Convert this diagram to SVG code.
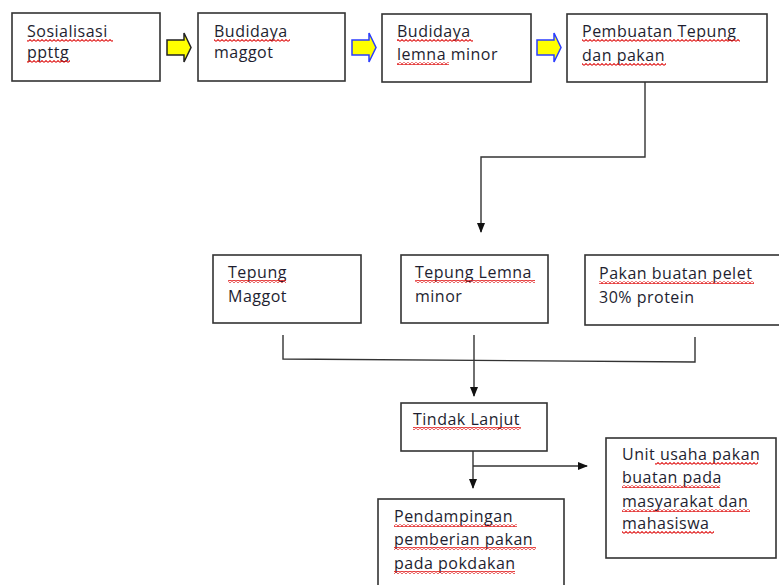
<svg xmlns="http://www.w3.org/2000/svg" width="779" height="585" viewBox="0 0 779 585">
<defs>
<style>
.box{fill:#fff;stroke:#333;stroke-width:1.6}
.t{font-family:"Open Sans","Liberation Sans",sans-serif;font-size:16px;letter-spacing:0.5px;fill:#1e1e30}
.c{fill:none;stroke:#333;stroke-width:1.4}
.ba{fill:#ffff00;stroke-width:1.5}
.wv{fill:url(#wave)}
</style>
<pattern id="wave" patternUnits="userSpaceOnUse" width="4" height="3">
<path d="M0,2.4 L2,0.6 L4,2.4" fill="none" stroke="#e01818" stroke-width="1.1"/>
</pattern>
<marker id="ah" markerWidth="10" markerHeight="10" refX="9" refY="5" orient="auto" markerUnits="userSpaceOnUse">
<path d="M0,1 L10,5 L0,9 Z" fill="#111"/>
</marker>
</defs>
<rect width="779" height="585" fill="#fff"/>

<g id="connectors">
<path class="ba" stroke="#222" d="M167,40 L184,40 L184,33 L191,47.5 L184,62 L184,55 L167,55 Z"/>
<path class="ba" stroke="#2a3cff" d="M352,40 L369,40 L369,33 L376,47.5 L369,62 L369,55 L352,55 Z"/>
<path class="ba" stroke="#2a3cff" d="M537,40 L554,40 L554,33 L561,47.5 L554,62 L554,55 L537,55 Z"/>
<path class="c" d="M645,82 L645,157 L481,157 L481,232" marker-end="url(#ah)"/>
<path class="c" d="M283,335 L283,359 L695,362 L695,337"/>
<path class="c" d="M474,335 L474,396" marker-end="url(#ah)"/>
<path class="c" d="M473,451 L473,488" marker-end="url(#ah)"/>
<path class="c" d="M473,466 L587,466" marker-end="url(#ah)"/>
</g>

<g id="n1"><rect class="box" x="12" y="13" width="148" height="68"/>
<text class="t" x="27" y="37">Sosialisasi</text><text class="t" x="27" y="58">ppttg</text>
<rect class="wv" x="27" y="39" width="86" height="3"/><rect class="wv" x="27" y="60" width="43" height="3"/></g>

<g id="n2"><rect class="box" x="198" y="13" width="147" height="68"/>
<text class="t" x="214" y="37">Budidaya</text><text class="t" x="214" y="58">maggot</text>
<rect class="wv" x="214" y="39" width="76" height="3"/></g>

<g id="n3"><rect class="box" x="382" y="14" width="149" height="68"/>
<text class="t" x="397" y="37">Budidaya</text><text class="t" x="397" y="60">lemna minor</text>
<rect class="wv" x="397" y="39" width="76" height="3"/><rect class="wv" x="397" y="62" width="52" height="3"/></g>

<g id="n4"><rect class="box" x="567" y="14" width="200" height="68"/>
<text class="t" x="582" y="37">Pembuatan Tepung</text><text class="t" x="582" y="61">dan pakan</text>
<rect class="wv" x="582" y="39" width="158" height="3"/><rect class="wv" x="582" y="63" width="84" height="3"/></g>

<g id="n5"><rect class="box" x="213" y="255" width="148" height="68"/>
<text class="t" x="228" y="278">Tepung</text><text class="t" x="228" y="302">Maggot</text>
<rect class="wv" x="228" y="280" width="58" height="3"/></g>

<g id="n6"><rect class="box" x="401" y="255" width="147" height="68"/>
<text class="t" x="415" y="278">Tepung Lemna</text><text class="t" x="415" y="302">minor</text>
<rect class="wv" x="415" y="280" width="120" height="3"/></g>

<g id="n7"><rect class="box" x="585" y="255" width="200" height="70"/>
<text class="t" x="599" y="279">Pakan buatan pelet</text><text class="t" x="599" y="303">30% protein</text>
<rect class="wv" x="599" y="281" width="155" height="3"/></g>

<g id="n8"><rect class="box" x="401" y="403" width="146" height="48"/>
<text class="t" x="413" y="425">Tindak Lanjut</text>
<rect class="wv" x="413" y="427" width="108" height="3"/></g>

<g id="n9"><rect class="box" x="606" y="438" width="170" height="120"/>
<text class="t" x="622" y="460">Unit usaha pakan</text><text class="t" x="622" y="483">buatan pada</text>
<text class="t" x="622" y="507">masyarakat dan</text><text class="t" x="622" y="529">mahasiswa</text>
<rect class="wv" x="655" y="462" width="103" height="3"/><rect class="wv" x="622" y="485" width="98" height="3"/>
<rect class="wv" x="622" y="509" width="128" height="3"/><rect class="wv" x="622" y="531" width="92" height="3"/></g>

<g id="n10"><rect class="box" x="378" y="499" width="186" height="100"/>
<text class="t" x="394" y="522">Pendampingan</text><text class="t" x="394" y="545">pemberian pakan</text>
<text class="t" x="394" y="569">pada pokdakan</text>
<rect class="wv" x="394" y="524" width="123" height="3"/><rect class="wv" x="394" y="547" width="142" height="3"/>
<rect class="wv" x="394" y="571" width="121" height="3"/></g>
</svg>
